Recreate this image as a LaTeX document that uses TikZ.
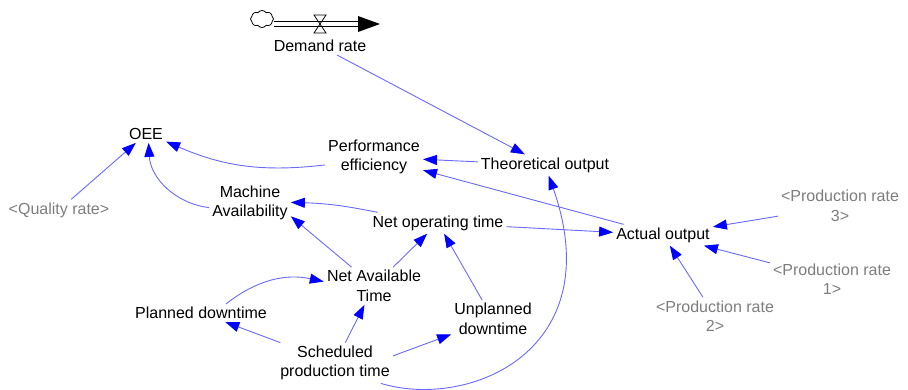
\documentclass[tikz,border=0pt]{standalone}
\usepackage{fontspec}
\setmainfont{Liberation Sans}
\usetikzlibrary{arrows.meta,shapes.symbols}
\definecolor{linkblue}{RGB}{105,105,255}
\definecolor{tipblue}{RGB}{0,0,255}
\definecolor{ghostgray}{RGB}{125,125,125}
\begin{document}
\begin{tikzpicture}[x=1pt,y=-1pt,
  var/.style={align=center, inner sep=3pt, font=\fontsize{16}{19.5}\selectfont, text=black},
  ghostvar/.style={var, text=ghostgray},
  link/.style={draw=linkblue, line width=0.9pt, -{Triangle[length=14pt,width=10pt,color=tipblue]}},
  pipe/.style={line width=0.9pt, double, double distance=3.4pt},
]
\useasboundingbox (0,0) rectangle (908,389);

% flow
\node[cloud, draw, cloud puffs=8, cloud puff arc=110, aspect=1.3, minimum width=23pt, minimum height=17pt, inner sep=0pt, line width=0.8pt] (src) at (262,19) {};
\coordinate (sink) at (380,24);
\draw[pipe, shorten >=21pt] (src.east |- sink) -- (sink);
\fill (sink) -- ++(-22,-8) -- ++(0,16) -- cycle;
\draw[line width=0.8pt] (314,15) -- (326,15) -- (314,33) -- (326,33) -- cycle;

% variables
\node[var] (demand) at (320,46) {Demand rate};
\node[var] (oee) at (146,134) {OEE};
\node[var] (perf) at (374,157) {Performance\\efficiency};
\node[var] (theo) at (545,165) {Theoretical output};
\node[var] (machine) at (250,203) {Machine\\Availability};
\node[var] (netop) at (438,223) {Net operating time};
\node[var] (actual) at (663,235) {Actual output};
\node[ghostvar] (prod3) at (840,206) {<Production rate\\3>};
\node[ghostvar] (prod1) at (832,279) {<Production rate\\1>};
\node[ghostvar] (prod2) at (715,316) {<Production rate\\2>};
\node[ghostvar] (quality) at (59,210) {<Quality rate>};
\node[var] (nat) at (374,286) {Net Available\\Time};
\node[var] (planned) at (201,313) {Planned downtime};
\node[var] (unplanned) at (493,319) {Unplanned\\downtime};
\node[var] (sched) at (335,363) {Scheduled\\production time};

% links
\draw[link] (demand) -- (theo);
\draw[link] (theo) -- (perf);
\draw[link] (actual) -- (perf);
\draw[link] (perf) to[bend left=15] (oee);
\draw[link] (quality) -- (oee);
\draw[link] (machine) to[bend left=40] (oee);
\draw[link] (netop.170) to[bend right=5] (machine);
\draw[link] (nat) -- (machine.-18);
\draw[link] (nat) -- (netop);
\draw[link] (unplanned) -- (netop);
\draw[link] (netop) -- (actual);
\draw[link] (prod3) -- (actual);
\draw[link] (prod1) -- (actual);
\draw[link] (prod2) -- (actual);
\draw[link] (planned.20) to[bend left=25] (nat.175);
\draw[link] (sched) -- (planned);
\draw[link] (sched) -- (nat);
\draw[link] (sched.7) -- (unplanned);
\draw[link] (sched.-24) .. controls (470,410) and (610,350) .. (theo);
\end{tikzpicture}
\end{document}
